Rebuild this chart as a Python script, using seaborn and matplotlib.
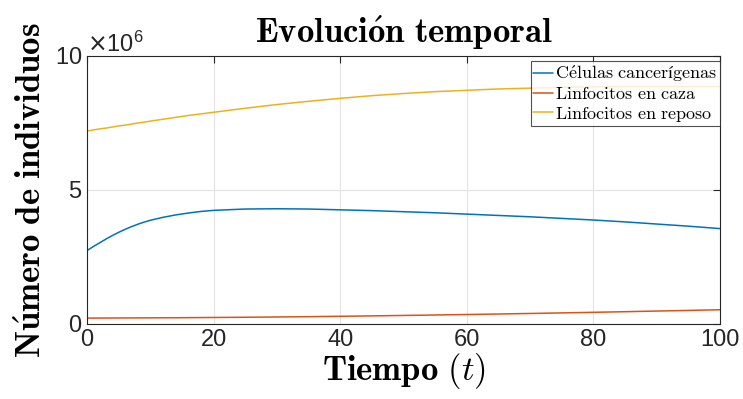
import seaborn as sns
import matplotlib.pyplot as plt
import matplotlib.ticker as mticker
import pandas as pd
import numpy as np

# tiempo y poblaciones (en millones de individuos)
tiempo = [0, 1, 2, 3, 4, 5, 6, 7, 8, 9, 10, 12, 14, 16, 18, 20, 25, 30, 35, 40,
          45, 50, 55, 60, 65, 70, 75, 80, 85, 90, 95, 100]
celulas = [2.74, 2.89, 3.03, 3.17, 3.30, 3.42, 3.53, 3.63, 3.72, 3.80, 3.87, 3.98,
           4.07, 4.14, 4.20, 4.24, 4.29, 4.30, 4.29, 4.26, 4.23, 4.19, 4.15, 4.10,
           4.05, 4.00, 3.94, 3.88, 3.81, 3.73, 3.65, 3.56]
caza = [0.220, 0.221, 0.222, 0.223, 0.224, 0.225, 0.226, 0.227, 0.228, 0.229, 0.230,
        0.232, 0.234, 0.237, 0.240, 0.243, 0.252, 0.262, 0.274, 0.288, 0.303, 0.319,
        0.336, 0.354, 0.373, 0.393, 0.414, 0.436, 0.459, 0.483, 0.507, 0.532]
reposo = [7.20, 7.24, 7.28, 7.31, 7.35, 7.39, 7.42, 7.46, 7.50, 7.53, 7.57, 7.64,
          7.71, 7.78, 7.84, 7.90, 8.05, 8.19, 8.31, 8.42, 8.52, 8.60, 8.67, 8.72,
          8.77, 8.80, 8.83, 8.85, 8.86, 8.86, 8.86, 8.86]
series = [r"$\mathrm{C\acute{e}lulas\ cancerígenas}$",
          r"$\mathrm{Linfocitos\ en\ caza}$",
          r"$\mathrm{Linfocitos\ en\ reposo}$"]
colores = ["#0072BD", "#D95319", "#EDB120"]

df = pd.concat([
    pd.DataFrame({"t": tiempo, "n": np.array(v) * 1e6, "serie": s})
    for v, s in zip([celulas, caza, reposo], series)
])

sns.set_style("white")
plt.rcParams["font.family"] = ["Liberation Sans", "DejaVu Sans"]
plt.rcParams["mathtext.fontset"] = "cm"

fig = plt.figure(figsize=(7.43, 3.99), dpi=100)
ax = fig.add_axes([87 / 743, 1 - 324 / 399, 633 / 743, 268 / 399])

sns.lineplot(data=df, x="t", y="n", hue="serie", palette=colores, ax=ax,
             linewidth=1.1, legend=False)

ax.set_xlim(0, 100)
ax.set_ylim(0, 1e7)
ax.set_xticks([0, 20, 40, 60, 80, 100])
ax.set_yticks([0, 5e6, 1e7])
fmt = mticker.ScalarFormatter(useMathText=True)
fmt.set_powerlimits((6, 6))
ax.yaxis.set_major_formatter(fmt)
ax.yaxis.get_offset_text().set_fontsize(17)
ax.yaxis.get_offset_text().set_math_fontfamily("dejavusans")

ax.grid(True, color="#e3e3e3", linewidth=0.8)
for sp in ax.spines.values():
    sp.set_color("#262626")
    sp.set_linewidth(0.8)
ax.tick_params(direction="in", length=5, width=0.8, colors="#262626",
               labelsize=17, top=True, right=True, labelcolor="#262626")

ax.set_title(r"$\mathbf{Evoluci\acute{o}n\ temporal}$", fontsize=25, pad=9, color="black")
ax.set_xlabel(r"$\mathbf{Tiempo\ (}t\mathbf{)}$", fontsize=25, labelpad=0, color="black")
ax.set_ylabel(r"$\mathbf{N\acute{u}mero\ de\ individuos}$", fontsize=25, labelpad=5,
              color="black")

handles = [plt.Line2D([], [], color=c, linewidth=1.1) for c in colores]
leg = ax.legend(handles, series, loc="upper right", bbox_to_anchor=(1.0, 0.982),
                borderaxespad=0, fontsize=13, frameon=True, fancybox=False,
                handlelength=1.1, handletextpad=0.1, borderpad=0.15,
                labelspacing=0.1, labelcolor="black")
leg.get_frame().set_edgecolor("#262626")
leg.get_frame().set_linewidth(0.8)

fig.savefig("out.png", dpi=100)
